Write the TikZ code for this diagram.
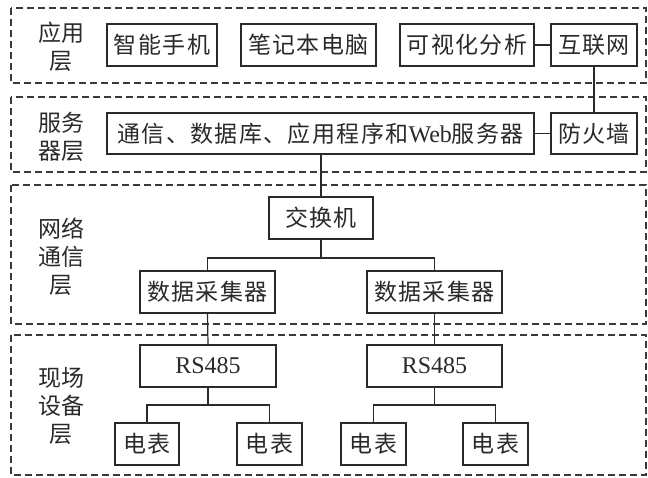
\documentclass[tikz,border=0pt]{standalone}
\usepackage{fontspec}
\setmainfont{Liberation Serif}
\newfontfamily\cjk{Noto Sans CJK SC}
\newfontfamily\cjkwide[LetterSpace=6]{Noto Sans CJK SC}
\newfontfamily\lat{Liberation Serif}
\definecolor{ink}{HTML}{2A2A2A}
\definecolor{dash}{HTML}{3A3A3A}
\tikzset{
  layerbox/.style={draw=dash, line width=1.2pt, dash pattern=on 7pt off 4pt},
  unit/.style={draw=ink, line width=1.3pt, minimum height=42pt, inner sep=0pt,
    font=\cjkwide\fontsize{23}{28}\selectfont, text=ink},
  layerlabel/.style={font=\cjk\fontsize{23}{28}\selectfont, text=ink, align=center, inner sep=0pt},
  link/.style={draw=ink, line width=1.2pt}
}
\begin{document}
\begin{tikzpicture}[x=1pt,y=-1pt]
\useasboundingbox (0,0) rectangle (648,477);
\fill[white] (0,0) rectangle (648,477);
% layers
\draw[layerbox] (11,8) rectangle (646,83);
\draw[layerbox] (11,97) rectangle (646,172);
\draw[layerbox] (11,185) rectangle (646,324);
\draw[layerbox] (11,335) rectangle (646,475);
% layer labels
\node[layerlabel] (L1) at (61,47) {应用\\层};
\node[layerlabel] (L2) at (61,137) {服务\\器层};
\node[layerlabel] (L3) at (61,257) {网络\\通信\\层};
\node[layerlabel] (L4) at (61,406) {现场\\设备\\层};
% application layer
\node[unit, minimum width=110pt] (phone) at (162,45) {智能手机};
\node[unit, minimum width=135pt] (laptop) at (308.5,45) {笔记本电脑};
\node[unit, minimum width=134pt] (vis) at (467,45) {可视化分析};
\node[unit, minimum width=86pt] (inet) at (594,45) {互联网};
% server layer
\node[unit, minimum width=427pt, minimum height=41pt] (server) at (320.5,133.5) {通信、数据库、应用程序和{\lat\fontsize{24}{28}\selectfont Web}服务器};
\node[unit, minimum width=86pt, minimum height=41pt] (fw) at (594,133.5) {防火墙};
% network layer
\node[unit, minimum width=104pt] (switch) at (321,218) {交换机};
\node[unit, minimum width=135pt] (dc1) at (207.5,292) {数据采集器};
\node[unit, minimum width=135pt] (dc2) at (434.5,292) {数据采集器};
% field layer
\node[unit, minimum width=136pt] (rs1) at (208,366) {\lat\fontsize{24}{28}\selectfont RS485};
\node[unit, minimum width=135pt] (rs2) at (434.5,366) {\lat\fontsize{24}{28}\selectfont RS485};
\node[unit, minimum width=64pt] (m1) at (147,444) {电表};
\node[unit, minimum width=65pt] (m2) at (269.5,444) {电表};
\node[unit, minimum width=65pt] (m3) at (373.5,444) {电表};
\node[unit, minimum width=65pt] (m4) at (495.5,444) {电表};
% links
\draw[link] (vis.east) -- (inet.west);
\draw[link] (inet.south) -- (fw.north);
\draw[link] (server.east) -- (fw.west);
\draw[link] (server.south -| switch.north) -- (switch.north);
\coordinate (sj) at (321,258);
\draw[link] (switch.south) -- (sj);
\draw[link] (dc1.north) |- (sj) -| (dc2.north);
\draw[link] (dc1.south) -- (rs1.north);
\draw[link] (dc2.south) -- (rs2.north);
\coordinate (r1j) at (208,405);
\coordinate (r2j) at (434.5,405);
\draw[link] (rs1.south) -- (r1j);
\draw[link] (m1.north) |- (r1j) -| (m2.north);
\draw[link] (rs2.south) -- (r2j);
\draw[link] (m3.north) |- (r2j) -| (m4.north);
\end{tikzpicture}
\end{document}
